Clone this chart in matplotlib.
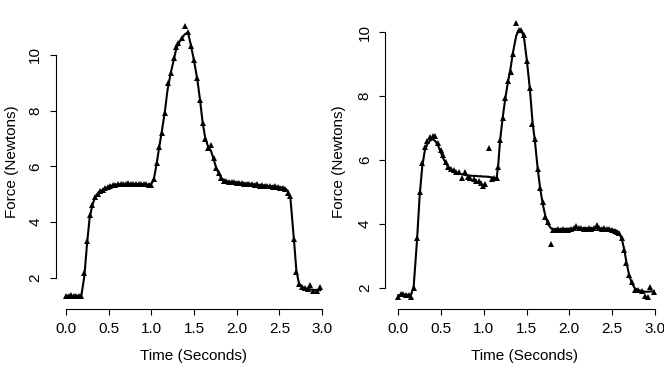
import matplotlib
matplotlib.use("Agg")
import matplotlib.pyplot as plt

plt.rcParams["font.family"] = ["Liberation Sans", "DejaVu Sans"]
plt.rcParams["font.size"] = 11

# left trial: time (s), measured force (N), smoothed fit (N)
time_a = [0.00, 0.03, 0.06, 0.09, 0.12, 0.15, 0.18, 0.215, 0.246, 0.277,
          0.308, 0.34, 0.37, 0.40, 0.43, 0.46, 0.49, 0.52, 0.55, 0.58,
          0.61, 0.64, 0.67, 0.70, 0.73, 0.76, 0.79, 0.82, 0.85, 0.88,
          0.91, 0.94, 0.97, 1.00, 1.03, 1.063, 1.09, 1.12, 1.16, 1.19,
          1.227, 1.265, 1.29, 1.316, 1.355, 1.394, 1.43, 1.46, 1.50, 1.54,
          1.57, 1.60, 1.63, 1.66, 1.70, 1.73, 1.76, 1.79, 1.82, 1.85,
          1.88, 1.91, 1.94, 1.97, 2.00, 2.03, 2.06, 2.09, 2.12, 2.15,
          2.18, 2.21, 2.24, 2.27, 2.30, 2.33, 2.36, 2.39, 2.42, 2.45,
          2.48, 2.51, 2.54, 2.57, 2.60, 2.63, 2.67, 2.70, 2.73, 2.77,
          2.80, 2.83, 2.86, 2.90, 2.94, 2.98]
force_a = [1.36, 1.35, 1.37, 1.35, 1.36, 1.34, 1.35, 2.16, 3.32, 4.25,
           4.61, 4.91, 5.02, 5.10, 5.16, 5.22, 5.26, 5.29, 5.32, 5.34,
           5.36, 5.37, 5.38, 5.37, 5.39, 5.37, 5.38, 5.37, 5.38, 5.36,
           5.37, 5.35, 5.33, 5.34, 5.53, 6.11, 6.71, 7.19, 7.90, 8.98,
           9.34, 9.88, 10.30, 10.42, 10.60, 11.04, 10.84, 10.33, 9.82, 9.16,
           8.38, 7.55, 6.98, 6.65, 6.77, 6.31, 5.93, 5.77, 5.57, 5.48,
           5.47, 5.45, 5.44, 5.42, 5.41, 5.40, 5.39, 5.37, 5.38, 5.35,
           5.36, 5.33, 5.35, 5.31, 5.32, 5.29, 5.31, 5.28, 5.27, 5.28,
           5.25, 5.24, 5.22, 5.18, 5.03, 4.93, 3.39, 2.22, 1.76, 1.66,
           1.62, 1.60, 1.74, 1.52, 1.52, 1.68]
fit_a = [1.35, 1.35, 1.35, 1.35, 1.35, 1.35, 1.36, 2.05, 3.20, 4.15,
         4.60, 4.88, 5.02, 5.10, 5.16, 5.21, 5.25, 5.29, 5.32, 5.34,
         5.35, 5.36, 5.37, 5.37, 5.37, 5.37, 5.37, 5.37, 5.37, 5.37,
         5.36, 5.35, 5.34, 5.36, 5.55, 6.10, 6.65, 7.20, 8.00, 8.75,
         9.35, 9.85, 10.20, 10.40, 10.60, 10.75, 10.80, 10.40, 9.80, 9.10,
         8.40, 7.60, 7.05, 6.75, 6.55, 6.25, 5.95, 5.75, 5.58, 5.50,
         5.46, 5.45, 5.44, 5.43, 5.42, 5.41, 5.40, 5.39, 5.38, 5.37,
         5.36, 5.35, 5.34, 5.33, 5.32, 5.31, 5.30, 5.29, 5.28, 5.27,
         5.26, 5.25, 5.23, 5.20, 5.12, 4.85, 3.40, 2.25, 1.80, 1.67,
         1.62, 1.60, 1.58, 1.56, 1.55, 1.55]

# right trial
time_b = [0.00, 0.03, 0.06, 0.09, 0.12, 0.15, 0.18, 0.219, 0.25, 0.28,
          0.31, 0.34, 0.37, 0.40, 0.43, 0.465, 0.495, 0.52, 0.555, 0.58,
          0.62, 0.65, 0.68, 0.71, 0.745, 0.78, 0.81, 0.84, 0.88, 0.91,
          0.94, 0.97, 0.99, 1.02, 1.06, 1.10, 1.12, 1.15, 1.168, 1.19,
          1.22, 1.25, 1.28, 1.315, 1.34, 1.38, 1.41, 1.44, 1.47, 1.505,
          1.54, 1.57, 1.60, 1.63, 1.66, 1.69, 1.72, 1.755, 1.786, 1.81,
          1.84, 1.87, 1.90, 1.93, 1.96, 1.99, 2.02, 2.05, 2.08, 2.11,
          2.14, 2.17, 2.20, 2.23, 2.26, 2.29, 2.32, 2.35, 2.38, 2.41,
          2.44, 2.47, 2.50, 2.53, 2.555, 2.585, 2.615, 2.645, 2.67, 2.70,
          2.73, 2.77, 2.81, 2.85, 2.89, 2.92, 2.95, 2.99]
force_b = [1.72, 1.79, 1.80, 1.78, 1.77, 1.72, 1.98, 3.57, 4.99, 5.90,
           6.42, 6.59, 6.73, 6.76, 6.76, 6.52, 6.31, 6.15, 5.95, 5.77,
           5.72, 5.69, 5.63, 5.61, 5.44, 5.61, 5.47, 5.42, 5.40, 5.34,
           5.34, 5.28, 5.19, 5.26, 6.38, 5.40, 5.42, 5.44, 5.79, 6.63,
           7.32, 7.95, 8.47, 8.76, 9.32, 10.28, 10.07, 10.07, 9.93, 9.10,
           8.26, 7.12, 6.66, 5.72, 5.11, 4.67, 4.22, 4.05, 3.36, 3.81,
           3.82, 3.83, 3.82, 3.84, 3.82, 3.80, 3.83, 3.88, 3.94, 3.88,
           3.86, 3.85, 3.84, 3.86, 3.84, 3.88, 3.95, 3.86, 3.84, 3.87,
           3.83, 3.85, 3.81, 3.78, 3.74, 3.70, 3.55, 3.18, 2.76, 2.38,
           2.19, 1.92, 1.92, 1.90, 1.74, 1.72, 2.03, 1.87]
fit_b = [1.76, 1.77, 1.78, 1.78, 1.77, 1.78, 2.05, 3.50, 4.90, 5.80,
         6.30, 6.50, 6.60, 6.65, 6.60, 6.45, 6.25, 6.08, 5.90, 5.80,
         5.70, 5.64, 5.60, 5.57, 5.55, 5.53, 5.52, 5.51, 5.50, 5.50,
         5.49, 5.49, 5.48, 5.48, 5.47, 5.45, 5.42, 5.44, 5.80, 6.60,
         7.30, 7.90, 8.40, 8.90, 9.35, 9.90, 10.05, 10.05, 9.85, 9.10,
         8.20, 7.20, 6.55, 5.75, 5.10, 4.62, 4.25, 3.98, 3.86, 3.83,
         3.83, 3.83, 3.83, 3.84, 3.84, 3.84, 3.85, 3.85, 3.86, 3.86,
         3.86, 3.86, 3.86, 3.86, 3.86, 3.86, 3.86, 3.86, 3.85, 3.85,
         3.84, 3.83, 3.82, 3.80, 3.77, 3.70, 3.52, 3.18, 2.78, 2.40,
         2.15, 1.97, 1.92, 1.89, 1.87, 1.87, 1.88, 1.88]

x_ticks = [0.0, 0.5, 1.0, 1.5, 2.0, 2.5, 3.0]
x_tick_labels = ["0.0", "0.5", "1.0", "1.5", "2.0", "2.5", "3.0"]
y_ticks = [2, 4, 6, 8, 10]

W, H = 664, 378
fig = plt.figure(figsize=(W / 100, H / 100), dpi=100)


def panel(px_left, px_right, xlim, ylim, t, f, fit, ylab_x):
    ax = fig.add_axes([px_left / W, (H - 309.3) / H,
                       (px_right - px_left) / W, (309.3 - 13.5) / H])
    ax.plot(t, fit, color="black", lw=1.5, zorder=2)
    ax.plot(t, f, "^", color="black", ms=4.5, mew=0, zorder=3)
    ax.set_xlim(*xlim)
    ax.set_ylim(*ylim)
    for side in ["top", "right"]:
        ax.spines[side].set_visible(False)
    ax.spines["left"].set_bounds(2, 10)
    ax.spines["bottom"].set_bounds(0, 3)
    for side in ["left", "bottom"]:
        ax.spines[side].set_linewidth(0.8)
    ax.set_xticks(x_ticks)
    ax.set_xticklabels(x_tick_labels)
    ax.set_yticks(y_ticks)
    ax.set_yticklabels([str(v) for v in y_ticks], rotation=90, va="center")
    ax.tick_params(direction="out", length=4.5, width=0.8, pad=5, labelsize=11)
    ax.set_xlabel("Time (Seconds)", fontsize=11)
    ax.xaxis.set_label_coords(0.5, -0.133)
    ax.set_ylabel("Force (Newtons)", fontsize=11, va="center")
    ax.yaxis.set_label_coords(ylab_x, 0.5)
    return ax


panel(55.5, 331.4, (-0.123, 3.11), (0.865, 11.49), time_a, force_a, fit_a, -0.158)
panel(385.0, 663.5, (-0.156, 3.103), (1.32, 10.59), time_b, force_b, fit_b, -0.165)

fig.savefig("out.png", dpi=100)
